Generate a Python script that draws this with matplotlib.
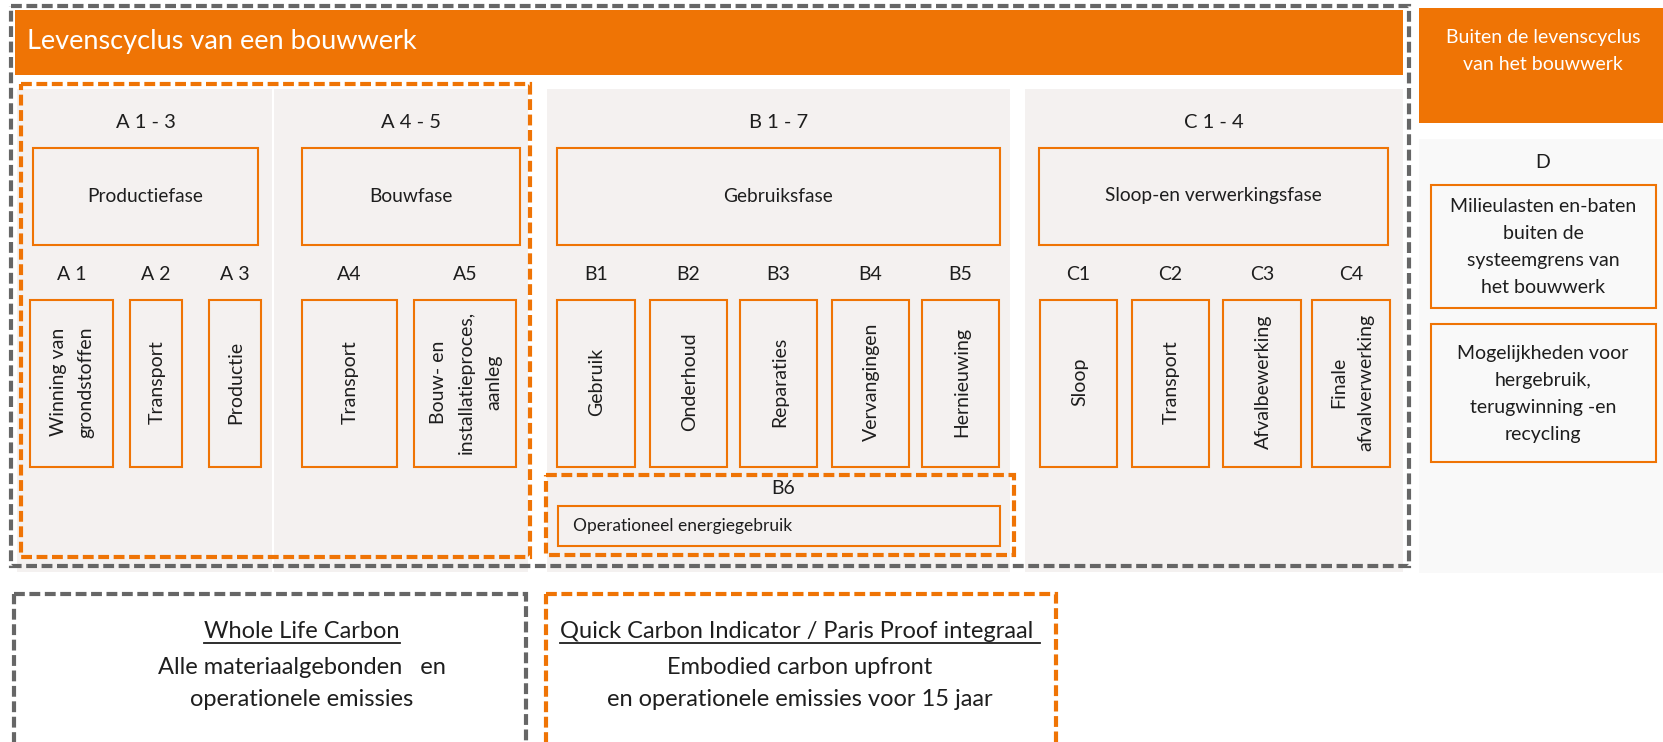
import matplotlib
matplotlib.use("Agg")
import matplotlib.pyplot as plt
from matplotlib.patches import Rectangle

# ---------------- content ----------------
title = "Levenscyclus van een bouwwerk"
outside_title = "Buiten de levenscyclus\nvan het bouwwerk"
group_codes = ["A 1 - 3", "A 4 - 5", "B 1 - 7", "C 1 - 4"]
group_names = ["Productiefase", "Bouwfase", "Gebruiksfase", "Sloop-en verwerkingsfase"]
module_codes = ["A 1", "A 2", "A 3", "A4", "A5",
                "B1", "B2", "B3", "B4", "B5",
                "C1", "C2", "C3", "C4"]
module_names = ["Winning van\ngrondstoffen", "Transport", "Productie", "Transport",
                "Bouw- en\ninstallatieproces,\naanleg",
                "Gebruik", "Onderhoud", "Reparaties", "Vervangingen", "Hernieuwing",
                "Sloop", "Transport", "Afvalbewerking", "Finale\nafvalverwerking"]
b6_code = "B6"
b6_name = "Operationeel energiegebruik"
d_code = "D"
d_items = ["Milieulasten en-baten\nbuiten de\nsysteemgrens van\nhet bouwwerk",
           "Mogelijkheden voor\nhergebruik,\nterugwinning -en\nrecycling"]
legend_titles = ["Whole Life Carbon", "Quick Carbon Indicator / Paris Proof integraal "]
legend_lines = [["Alle materiaalgebonden   en", "operationele emissies"],
                ["Embodied carbon upfront", "en operationele emissies voor 15 jaar"]]

# ---------------- layout (pixel units of the 1663x742 canvas) ----------------
panel_x = [(17, 272), (274, 528), (547, 1010), (1025, 1403)]
group_box_x = [(33, 258), (302, 520), (557, 1000), (1039, 1388)]
module_box_x = [(30, 113), (130, 182), (209, 261), (302, 397), (414, 516),
                (557, 635), (650, 727), (740, 817), (832, 909), (922, 999),
                (1040, 1117), (1132, 1209), (1223, 1301), (1312, 1390)]

ORANGE = "#EF7405"
GRAY = "#666666"
PANEL = "#F4F1F0"
PANEL_D = "#F9F9F9"
TXT = "#1E1E1E"
FONT = ["Lato", "DejaVu Sans"]

plt.rcParams['font.family'] = FONT

W, H = 1663, 742
fig = plt.figure(figsize=(W / 100, H / 100), dpi=100)
ax = fig.add_axes([0, 0, 1, 1])
ax.set_xlim(0, W)
ax.set_ylim(H, 0)
ax.axis("off")

DASH = (0, (2.6, 1.1))


def rect(x0, y0, x1, y1, **kw):
    r = Rectangle((x0, y0), x1 - x0, y1 - y0, **kw)
    ax.add_patch(r)
    return r


def box(x0, y0, x1, y1, face="none"):
    rect(x0, y0, x1, y1, facecolor=face, edgecolor=ORANGE, lw=1.5, zorder=3)


def txt(x, y, s, size=13, color=TXT, **kw):
    kw.setdefault("ha", "center")
    kw.setdefault("va", "center")
    return ax.text(x, y, s, fontsize=size, color=color, zorder=5, **kw)


# panels
for (x0, x1) in panel_x:
    rect(x0, 89, x1, 572, facecolor=PANEL, edgecolor="none", zorder=1)
rect(1419, 139, W, 573, facecolor=PANEL_D, edgecolor="none", zorder=1)

# header
rect(15, 10, 1403, 75, facecolor=ORANGE, edgecolor="none", zorder=2)
txt(27, 41, title, size=19.5, color="white", ha="left")
rect(1419, 8, W, 123, facecolor=ORANGE, edgecolor="none", zorder=2)
txt(1543, 51, outside_title, size=14, color="white", linespacing=1.7)

# group headers
group_centers = [(a + b) / 2 for a, b in group_box_x]
for i, (x0, x1) in enumerate(group_box_x):
    box(x0, 148, x1, 245)
    txt(group_centers[i], 123, group_codes[i], size=14.5)
    txt(group_centers[i], 196, group_names[i], size=13.8)

# modules
for i, (x0, x1) in enumerate(module_box_x):
    box(x0, 300, x1, 467)
    cx = (x0 + x1) / 2
    txt(cx, 275, module_codes[i], size=14)
    txt(cx + 1, 382, module_names[i], size=14, rotation=90, linespacing=1.75,
        multialignment="center")

# B6
box(558, 506, 1000, 546)
txt(783, 488, b6_code, size=14)
txt(573, 526, b6_name, size=12.5, ha="left")
rect(546, 475, 1014, 555, facecolor="none", edgecolor=ORANGE, lw=3,
     linestyle=DASH, zorder=4)

# D
txt(1543, 162, d_code, size=14)
box(1431, 185, 1656, 308)
txt(1543, 247, d_items[0], size=14, linespacing=1.7)
box(1431, 324, 1656, 462)
txt(1543, 394, d_items[1], size=14, linespacing=1.7)

# dashed scope frames
rect(21, 84, 530, 557, facecolor="none", edgecolor=ORANGE, lw=3,
     linestyle=DASH, zorder=4)
rect(11, 6, 1409, 566, facecolor="none", edgecolor=GRAY, lw=3,
     linestyle=DASH, zorder=4)

# legend boxes
rect(14, 594, 526, 745, facecolor="none", edgecolor=GRAY, lw=3,
     linestyle=DASH, zorder=4)
rect(546, 594, 1056, 745, facecolor="none", edgecolor=ORANGE, lw=3,
     linestyle=DASH, zorder=4)
legend_cx = [302, 800]
titles = []
for i in range(2):
    t = txt(legend_cx[i], 632, legend_titles[i], size=17)
    titles.append(t)
    txt(legend_cx[i], 667, legend_lines[i][0], size=17)
    txt(legend_cx[i], 699, legend_lines[i][1], size=17)

fig.canvas.draw()
inv = ax.transData.inverted()
for t in titles:
    bb = t.get_window_extent()
    (x0, y0), (x1, y1) = inv.transform([(bb.x0, bb.y0), (bb.x1, bb.y1)])
    ax.plot([x0, x1], [643, 643], color=TXT, lw=1.3, zorder=5)

fig.savefig("out.png", dpi=100)
